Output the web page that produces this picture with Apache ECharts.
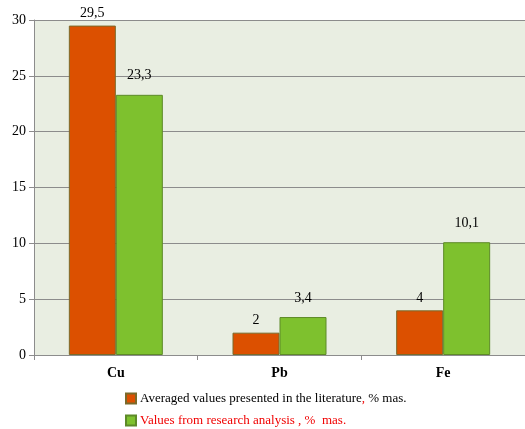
<!DOCTYPE html>
<html>
<head>
<meta charset="utf-8">
<script src="https://cdn.jsdelivr.net/npm/echarts@6/dist/echarts.min.js"></script>
<style>
  html, body { margin: 0; padding: 0; background: #ffffff; }
  #chart { width: 525px; height: 429px; }
</style>
</head>
<body>
<div id="chart"></div>
<script>
// Element content, % mass
const elements = ['Cu', 'Pb', 'Fe'];
const literatureValues = [29.5, 2, 4];
const researchValues = [23.3, 3.4, 10.1];
const seriesNames = [
  'Averaged values presented in the literature',
  'Values from research analysis'
];
const yTicks = { min: 0, max: 30, interval: 5 };

const serif = '"Liberation Serif", "DejaVu Serif", serif';
const commaDecimal = v => String(v).replace('.', ',');

const chart = echarts.init(document.getElementById('chart'));
chart.setOption({
  animation: false,
  textStyle: { fontFamily: serif },
  grid: { left: 34, right: 0, top: 20, bottom: 74, backgroundColor: '#e9eee2', show: true, borderWidth: 0 },
  xAxis: {
    type: 'category',
    data: elements,
    axisLine: { lineStyle: { color: '#8c8c8c', width: 1 } },
    axisTick: { show: true, alignWithLabel: false, length: 5, lineStyle: { color: '#8c8c8c' } },
    axisLabel: { color: '#000', fontFamily: serif, fontSize: 14, fontWeight: 'bold', margin: 11 }
  },
  yAxis: {
    type: 'value',
    min: yTicks.min, max: yTicks.max, interval: yTicks.interval,
    axisLine: { show: true, lineStyle: { color: '#8c8c8c' } },
    axisTick: { show: true, length: 5, lineStyle: { color: '#8c8c8c' } },
    axisLabel: { color: '#000', fontFamily: serif, fontSize: 14, margin: 8 },
    splitLine: { lineStyle: { color: '#8c8c8c', width: 1 } }
  },
  legend: {
    orient: 'vertical',
    left: 125, top: 392, height: 40,
    padding: 0,
    itemWidth: 10, itemHeight: 10, itemGap: 9,
    icon: 'rect',
    data: seriesNames,
    formatter: name => name === seriesNames[0]
      ? '{a|' + name + '}{r|, }{a|% mas.}'
      : '{r|' + name + ' , %  mas.}',
    textStyle: {
      fontFamily: serif, fontSize: 13, padding: [0, 0, 0, -1],
      rich: {
        a: { color: '#000', fontFamily: serif, fontSize: 13, lineHeight: 15 },
        r: { color: '#f00000', fontFamily: serif, fontSize: 13, lineHeight: 15 }
      }
    }
  },
  series: [
    {
      name: seriesNames[0], type: 'bar', data: literatureValues,
      barWidth: 47, barGap: '0%',
      itemStyle: { color: '#dc5000', borderColor: '#7a6a2a', borderWidth: 1 },
      label: { show: true, position: 'top', distance: 5, color: '#000', fontFamily: serif, fontSize: 14,
               formatter: p => commaDecimal(p.value) }
    },
    {
      name: seriesNames[1], type: 'bar', data: researchValues,
      barWidth: 47, barGap: '0%',
      itemStyle: { color: '#7ec12e', borderColor: '#5d8a28', borderWidth: 1 },
      label: { show: true, position: 'top', distance: 12, color: '#000', fontFamily: serif, fontSize: 14,
               formatter: p => commaDecimal(p.value) }
    }
  ]
});
</script>
</body>
</html>
